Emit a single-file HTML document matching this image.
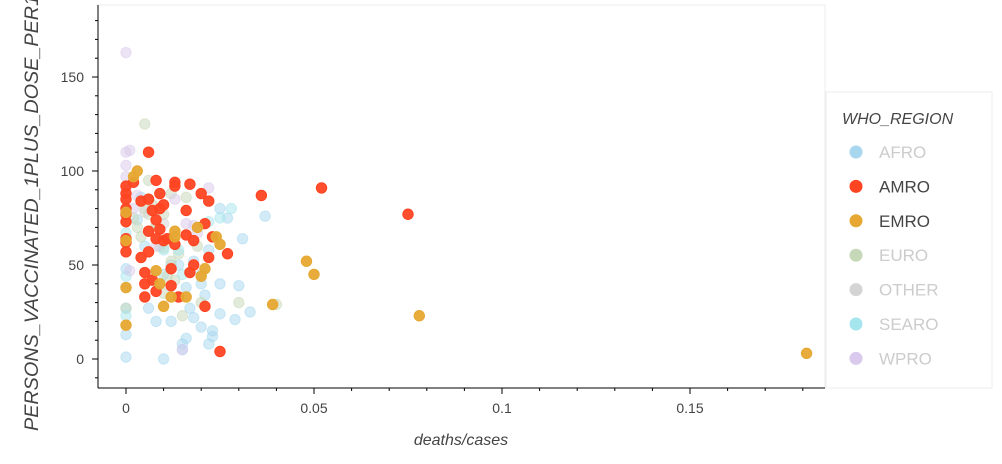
<!DOCTYPE html>
<html><head><meta charset="utf-8"><style>
html,body{margin:0;padding:0;background:#fff;}
svg{display:block;font-family:"Liberation Sans",sans-serif;}
</style></head><body>
<svg id="chart" width="1002" height="464">
<rect x="98" y="5" width="727" height="383" fill="#fff" stroke="#ececec"/>
<g id="marks"></g>
<g id="axes"></g>
<rect x="826" y="92" width="166" height="296" fill="#fff" stroke="#ececec"/>
<g id="legend"></g>
</svg>
<script>
const regions=["AFRO","AMRO","EMRO","EURO","OTHER","SEARO","WPRO"];
const colors=["#a6d7ef","#ff4422","#e6a832","#c6d8b8","#d4d4d4","#a5e5ee","#d9c9ec"];
const active=[false,true,true,false,false,false,false];
const xTicks=[0,0.05,0.1,0.15];
const xTickLabels=["0","0.05","0.1","0.15"];
const yTicks=[0,50,100,150];
const afro=[[0,1],[0,13],[0,27],[0,38],[0,48],[0.01,0],[0.012,20],[0.015,5],[0.015,8],[0.016,11],[0.017,27],[0.02,17],[0.022,8],[0.023,12],[0.023,15],[0.025,24],[0.025,40],[0.029,21],[0.03,39],[0.033,25],[0.037,76],[0.025,80],[0.027,75],[0.031,64],[0.008,20],[0.006,27],[0.018,52],[0.014,50],[0.02,45],[0.005,60],[0.01,45],[0.016,38],[0.021,34],[0.022,58],[0.018,22],[0.004,86],[0.012,50],[0.003,74],[0.02,40]];
const amro=[[0,92],[0,88],[0,85],[0,80],[0,77],[0,73],[0,64],[0,62],[0,57],[0.002,94],[0.004,84],[0.005,46],[0.005,40],[0.006,110],[0.006,85],[0.006,68],[0.006,57],[0.007,79],[0.007,42],[0.008,95],[0.008,74],[0.008,64],[0.009,88],[0.009,80],[0.009,69],[0.01,82],[0.01,63],[0.011,64],[0.012,39],[0.013,94],[0.013,92],[0.016,79],[0.016,66],[0.017,93],[0.017,46],[0.018,50],[0.018,63],[0.02,88],[0.021,72],[0.021,28],[0.022,84],[0.022,54],[0.023,65],[0.025,4],[0.027,56],[0.036,87],[0.052,91],[0.075,77],[0.005,33],[0.014,33],[0.012,48],[0.004,54],[0.008,36],[0.013,61]];
const emro=[[0,38],[0,18],[0,78],[0,63],[0.002,97],[0.003,100],[0.008,47],[0.009,40],[0.01,28],[0.012,33],[0.013,65],[0.013,68],[0.019,70],[0.02,44],[0.025,61],[0.039,29],[0.048,52],[0.05,45],[0.078,23],[0.181,3],[0.016,33],[0.021,48],[0.024,65]];
const euro=[[0.005,125],[0.006,95],[0.006,77],[0.007,82],[0.008,72],[0.008,70],[0.009,60],[0.01,59],[0.011,44],[0.012,52],[0.012,88],[0.015,23],[0.016,86],[0.019,60],[0.02,30],[0.03,30],[0.04,29],[0.004,65],[0.01,77],[0.014,56],[0.002,75],[0,27],[0.007,45],[0.01,35],[0.013,42],[0.005,80],[0.003,70]];
const other=[[0.01,72],[0.005,78]];
const searo=[[0,23],[0,67],[0.014,58],[0.025,75],[0.028,80],[0.022,73],[0.01,58],[0.015,45],[0,44],[0.01,63]];
const wpro=[[0,163],[0,110],[0.001,111],[0,103],[0,97],[0,90],[0.022,91],[0.015,5],[0.018,71],[0.019,67],[0.003,87],[0.008,60],[0.013,85],[0.016,72],[0.001,47],[0.002,80]];
const series=[afro,amro,emro,euro,other,searo,wpro];
const NS="http://www.w3.org/2000/svg";
function xs(v){return 126+v*3760;}
function ys(v){return 359-v*1.88;}
function mk(t,a,p){const e=document.createElementNS(NS,t);for(const k in a)e.setAttribute(k,a[k]);p.appendChild(e);return e;}
const marks=document.getElementById('marks');
const order=[0,3,4,5,6,1,2];
order.forEach(i=>{
  series[i].forEach(d=>{
    const c=mk('circle',{cx:xs(d[0]),cy:ys(d[1]),r:5.2,fill:colors[i],'fill-opacity':active[i]?0.95:0.5,stroke:colors[i],'stroke-opacity':active[i]?1:0.5},marks);
    
    
  });
});
const ax=document.getElementById('axes');
let l=mk('line',{x1:98,y1:388,x2:825,y2:388,stroke:'#000'},ax);


l=mk('line',{x1:98,y1:5,x2:98,y2:388,stroke:'#000'},ax);


xTicks.forEach((v,i)=>{
  mk('line',{x1:xs(v),y1:388,x2:xs(v),y2:394,stroke:'#000'},ax);
  const t=mk('text',{x:xs(v),y:413,'text-anchor':'middle','font-size':14,fill:'#444'},ax);
  t.textContent=xTickLabels[i];
  
  
});
for(let v=0;v<=0.19;v+=0.01){mk('line',{x1:xs(v),y1:388,x2:xs(v),y2:391,stroke:'#000'},ax);}
for(let v=-10;v<=180;v+=10){if(ys(v)<=388&&ys(v)>=5)mk('line',{x1:95,y1:ys(v),x2:98,y2:ys(v),stroke:'#000'},ax);}
yTicks.forEach(v=>{
  mk('line',{x1:92,y1:ys(v),x2:98,y2:ys(v),stroke:'#000'},ax);
  const t=mk('text',{x:84,y:ys(v)+5,'text-anchor':'end','font-size':14,fill:'#444'},ax);
  t.textContent=v;
  
  
});
let t=mk('text',{x:461,y:445,'text-anchor':'middle','font-size':16,'font-style':'italic',fill:'#444'},ax);
t.textContent='deaths/cases';


t=mk('text',{x:0,y:0,transform:'translate(38,431) rotate(-90)','font-size':19.8,'font-style':'italic',fill:'#444'},ax);
t.textContent='PERSONS_VACCINATED_1PLUS_DOSE_PER100';


const lg=document.getElementById('legend');
t=mk('text',{x:842,y:124,'font-size':16,'font-style':'italic',fill:'#444'},lg);
t.textContent='WHO_REGION';


regions.forEach((r,i)=>{
  const y=152+i*34.4;
  const g=mk('g',{},lg);
  
  
  mk('circle',{cx:856,cy:y,r:6.5,fill:colors[i]},g);
  const tt=mk('text',{x:879,y:y+6,'font-size':17,fill:active[i]?'#444':'#ccc'},g);
  tt.textContent=r;
});
</script>
</body></html>
